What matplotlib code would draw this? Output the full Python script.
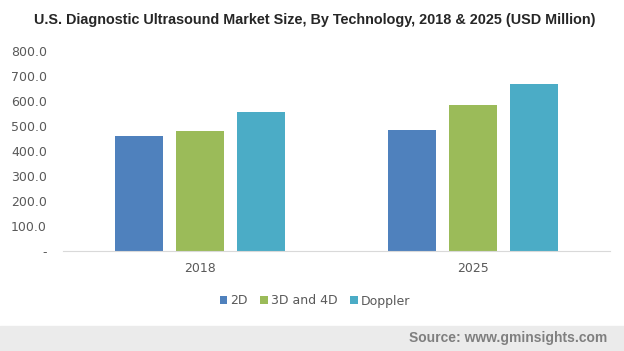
import matplotlib
matplotlib.use("Agg")
import matplotlib.pyplot as plt
import numpy as np
from matplotlib.patches import Rectangle

years = ["2018", "2025"]
series = ["2D", "3D and 4D", "Doppler"]
vals_2d = [460, 484]
vals_3d = [480, 584]
vals_doppler = [556, 668]
colors = ["#4f81bd", "#9bbb59", "#4bacc6"]
yticks = [0, 100, 200, 300, 400, 500, 600, 700, 800]
ytick_labels = ["-", "100.0", "200.0", "300.0", "400.0", "500.0", "600.0", "700.0", "800.0"]

fig = plt.figure(figsize=(6.24, 3.51), dpi=100)
W, H = 624, 351
ax = fig.add_axes([63 / W, 1 - 251 / H, (610 - 63) / W, (251 - 51) / H])

x = np.arange(len(years))
bw = 0.175
step = 0.223
for i, (vals, c, name) in enumerate(zip([vals_2d, vals_3d, vals_doppler], colors, series)):
    ax.bar(x + (i - 1) * step, vals, width=bw, color=c, label=name)

ax.set_xlim(-0.5, 1.5)
ax.set_ylim(0, 800)
ax.set_yticks(yticks)
ax.set_yticklabels(ytick_labels)
ax.set_xticks(x)
ax.set_xticklabels(years)
for s in ["top", "right", "left"]:
    ax.spines[s].set_visible(False)
ax.spines["bottom"].set_color("#d9d9d9")
ax.tick_params(axis="both", length=0, colors="#595959", labelsize=9)
ax.tick_params(axis="y", pad=11.5)
ax.tick_params(axis="x", pad=8)

fig.text(315 / W, 1 - 20 / H, "U.S. Diagnostic Ultrasound Market Size, By Technology, 2018 & 2025 (USD Million)",
         ha="center", va="center", fontsize=10.4, fontweight="bold", family="Liberation Sans", color="#262626")

leg = fig.legend(loc="center", bbox_to_anchor=(315 / W, 1 - 301 / H), ncol=3, frameon=False,
                 fontsize=9, handlelength=0.6, handleheight=0.6, handletextpad=0.25, columnspacing=1.0)
for t in leg.get_texts():
    t.set_color("#595959")

fig.patches.append(Rectangle((0, 0), 1, 25 / H, transform=fig.transFigure, color="#ebebeb", zorder=0))
fig.text(607 / W, 1 - 338 / H, "Source: www.gminsights.com", ha="right", va="center", fontsize=10,
         fontweight="bold", family="Liberation Sans", color="#7f7f7f")

fig.savefig("out.png", dpi=100)
